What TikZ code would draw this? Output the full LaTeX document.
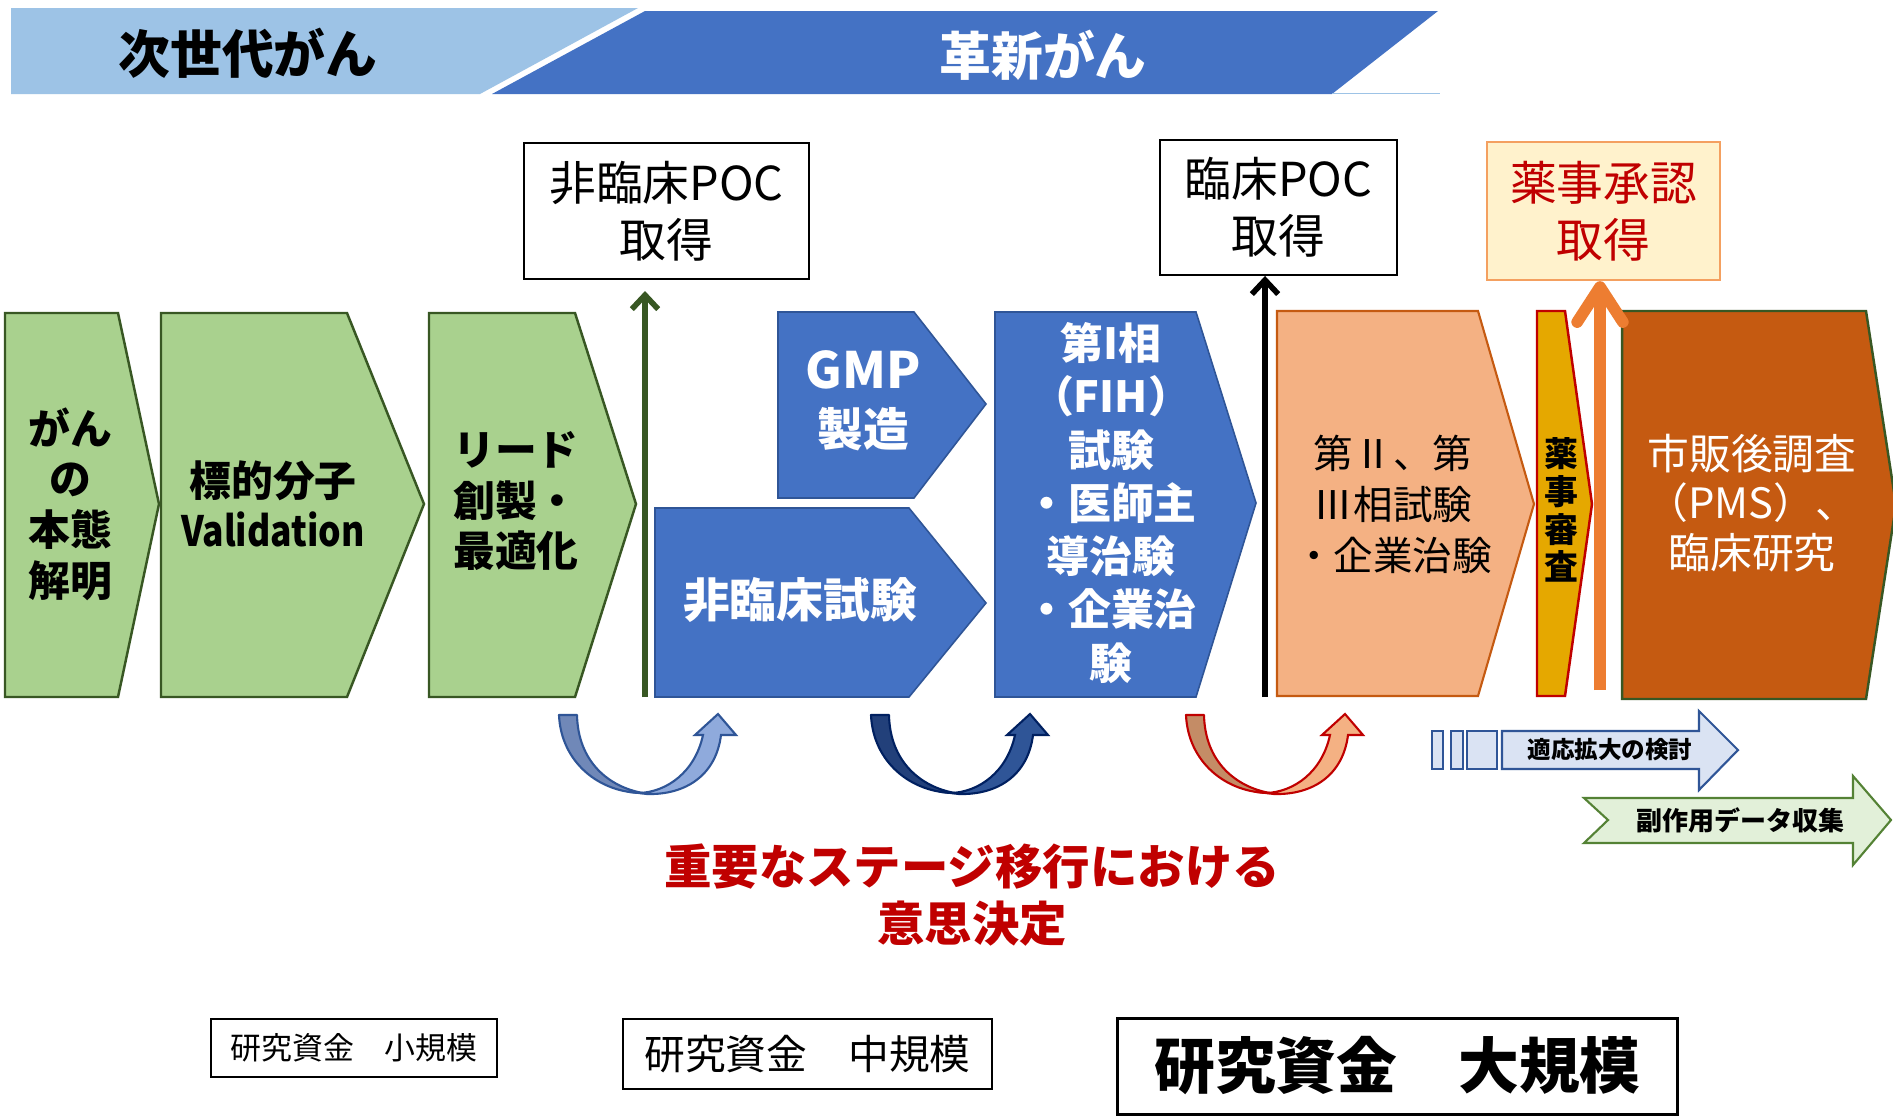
\documentclass[tikz,border=0pt]{standalone}
\usepackage{fontspec}
\usepackage{graphicx}
\setmainfont{Noto Sans CJK JP}
\usetikzlibrary{arrows.meta}
\definecolor{lblue}{HTML}{9DC3E6}
\definecolor{dblue}{HTML}{4472C4}
\definecolor{gfill}{HTML}{A9D18E}
\definecolor{gdraw}{HTML}{385723}
\definecolor{bdraw}{HTML}{2F5597}
\definecolor{ofill}{HTML}{F4B183}
\definecolor{odraw}{HTML}{C55A11}
\definecolor{yfill}{HTML}{E5A800}
\definecolor{rred}{HTML}{C00000}
\definecolor{pmsfill}{HTML}{C55A11}
\definecolor{oarrow}{HTML}{ED7D31}
\definecolor{apfill}{HTML}{FFF2CC}
\definecolor{apdraw}{HTML}{F4A060}
\definecolor{sgfill}{HTML}{E2F0D9}
\definecolor{sgdraw}{HTML}{548235}
\definecolor{sbfill}{HTML}{DAE3F3}
\definecolor{uAl}{HTML}{7088B8}
\definecolor{uAr}{HTML}{8FAADC}
\definecolor{uBl}{HTML}{22407A}
\definecolor{uBr}{HTML}{2F5597}
\definecolor{uBd}{HTML}{002060}
\definecolor{uCl}{HTML}{C48C66}
\definecolor{uCr}{HTML}{F4B183}
\newcommand{\myfs}[2]{\fontsize{#1pt}{#2pt}\selectfont}
\newcommand{\uturnarrow}[4]{%
\begin{scope}[shift={(#1,0)}]
\filldraw[fill=#2,draw=#4,line width=1.2pt,line join=round] (0,715) .. controls (2,762) and (40,793) .. (84,793) .. controls (50,787) and (19,762) .. (18,715) -- cycle;
\filldraw[fill=#3,draw=#4,line width=1.2pt,line join=miter] (80,793) .. controls (108,792) and (136,772) .. (144,735) -- (136,735) -- (159,714) -- (177,735) -- (162,735) .. controls (157,775) and (127,795) .. (88,794) -- cycle;
\end{scope}}
\tikzset{
  gchev/.style={fill=gfill,draw=gdraw,line width=1.4pt,line join=miter},
  bchev/.style={fill=dblue,draw=bdraw,line width=0.9pt,line join=miter},
  gtxt/.style={font=\bfseries\myfs{23.8}{28.9},align=center},
  btxt/.style={font=\bfseries\myfs{26}{33},align=center,text=white},
  boxlbl/.style={draw=black,line width=1.1pt,inner sep=0pt,align=center,fill=white},
  barb/.style={line width=3.2pt,-{Straight Barb[length=8pt,width=15pt]}},
}
\begin{document}
\begin{tikzpicture}[x=0.02cm,y=-0.02cm]
\useasboundingbox (0,0) rectangle (1893,1117);
\fill[white] (0,0) rectangle (1893,1117);

% header banner
\fill[lblue] (11,8) -- (638,8) -- (480,94) -- (11,94) -- cycle;
\fill[dblue] (645,11) -- (1438,11) -- (1332,94) -- (492,94) -- cycle;
\draw[lblue,line width=1pt] (1332,93.5) -- (1440,93.5);
\node[font=\bfseries\myfs{29.5}{35}] (hdrA) at (248,53) {次世代がん};
\node[font=\bfseries\myfs{29.5}{35},text=white] (hdrB) at (1043,55) {革新がん};

% green chevrons
\draw[gchev] (5,313) -- (118,313) -- (159,504) -- (118,697) -- (5,697) -- cycle;
\draw[gchev] (161,313) -- (347,313) -- (424,504) -- (347,697) -- (161,697) -- cycle;
\draw[gchev] (429,313) -- (575,313) -- (636,504) -- (575,697) -- (429,697) -- cycle;
\node[gtxt] (tA) at (70,504) {がん\\の\\本態\\解明};
\node[gtxt] (tB) at (273,504) {標的分子\\\scalebox{0.85}[1]{Validation}};
\node[gtxt] (tC) at (516,501) {リード\\創製・\\最適化};

% blue chevrons
\draw[bchev] (778,312) -- (914,312) -- (986,404) -- (914,498) -- (778,498) -- cycle;
\draw[bchev] (655,508) -- (909,508) -- (986,603) -- (909,697) -- (655,697) -- cycle;
\draw[bchev] (995,312) -- (1196,312) -- (1256,503) -- (1196,697) -- (995,697) -- cycle;
\node[btxt] (tGMP) at (863,401) {{\myfs{28.5}{33}GMP}\\製造};
\node[btxt,font=\bfseries\myfs{26.6}{33}] (tNC) at (800,600) {非臨床試験};
\node[btxt,font=\bfseries\myfs{24.4}{30.3}] (tP1) at (1111,503) {第I相\\（FIH）\\試験\\・医師主\\導治験\\・企業治\\験};

% orange, yellow, PMS
\draw[fill=ofill,draw=odraw,line width=1.2pt] (1277,311) -- (1478,311) -- (1534,504) -- (1478,696) -- (1277,696) -- cycle;
\node[font=\myfs{22.5}{29},align=center] (tP2) at (1393,504) {第Ⅱ、第\\Ⅲ相試験\\・企業治験};
\draw[fill=yfill,draw=rred,line width=1.4pt] (1537,311) -- (1565,311) -- (1592,504) -- (1565,696) -- (1537,696) -- cycle;
\node[font=\bfseries\myfs{19.3}{21.5},align=center] (tRev) at (1561,510) {薬\\事\\審\\査};
\draw[fill=pmsfill,draw=gdraw,line width=1.4pt] (1622,311) -- (1866,311) -- (1896,505) -- (1866,699) -- (1622,699) -- cycle;
\node[font=\myfs{23.8}{28.4},align=center,text=white] (tPMS) at (1752,503) {市販後調査\\（PMS）、\\臨床研究};

% milestone boxes
\node[boxlbl,minimum width=5.7cm,minimum height=2.72cm,font=\myfs{26.6}{32.3}] (poc1) at (666.5,211) {非臨床POC\\取得};
\node[boxlbl,minimum width=4.74cm,minimum height=2.7cm,font=\myfs{26.6}{32.3}] (poc2) at (1278.5,207.5) {臨床POC\\取得};
\node[boxlbl,fill=apfill,draw=apdraw,text=rred,line width=1.3pt,minimum width=4.66cm,minimum height=2.76cm,font=\myfs{26.6}{32.3}] (appr) at (1603.5,211) {薬事承認\\取得};

% vertical arrows
\coordinate (gA) at (645,697);
\coordinate (gB) at (645,291);
\draw[gdraw,barb] (gA) -- (gB);
\coordinate (kA) at (1265,697);
\draw[black,barb] (kA) -- (kA |- poc2.south);
\coordinate (oA) at (1600,690);
\draw[oarrow,line width=6.6pt,-{Straight Barb[length=20pt,width=26pt,round]}] (oA) -- (oA |- appr.south);

% u-turn arrows
\uturnarrow{559}{uAl}{uAr}{bdraw}
\uturnarrow{871}{uBl}{uBr}{uBd}
\uturnarrow{1186}{uCl}{uCr}{rred}

% decision text
\node[font=\bfseries\myfs{27}{32},text=rred,align=center] (tDec) at (972,895) {重要なステージ移行における\\意思決定};

% side arrows
\draw[fill=sbfill,draw=bdraw,line width=1.2pt] (1432,731) rectangle (1443,769);
\draw[fill=sbfill,draw=bdraw,line width=1.2pt] (1451,731) rectangle (1463,769);
\draw[fill=sbfill,draw=bdraw,line width=1.2pt] (1467,731) rectangle (1497,769);
\draw[fill=sbfill,draw=bdraw,line width=1.2pt,line join=miter] (1502,731) -- (1699,731) -- (1699,711) -- (1738,750) -- (1699,790) -- (1699,769) -- (1502,769) -- cycle;
\node[font=\bfseries\myfs{13.4}{16}] (tExp) at (1610,750) {適応拡大の検討};
\draw[fill=sgfill,draw=sgdraw,line width=1.2pt,line join=miter] (1584,798) -- (1853,798) -- (1853,776) -- (1891,820) -- (1853,865) -- (1853,843) -- (1584,843) -- (1608,820) -- cycle;
\node[font=\bfseries\myfs{14.8}{17}] (tSide) at (1740,820) {副作用データ収集};

% funding boxes
\node[boxlbl,minimum width=5.72cm,minimum height=1.16cm,font=\myfs{17.6}{21}] (fund1) at (354,1048) {研究資金　小規模};
\node[boxlbl,minimum width=7.38cm,minimum height=1.4cm,font=\myfs{23.2}{28}] (fund2) at (807.5,1054) {研究資金　中規模};
\node[boxlbl,line width=1.7pt,minimum width=11.22cm,minimum height=1.92cm,font=\bfseries\myfs{34.6}{40}] (fund3) at (1397.5,1066) {研究資金　大規模};
\end{tikzpicture}
\end{document}
